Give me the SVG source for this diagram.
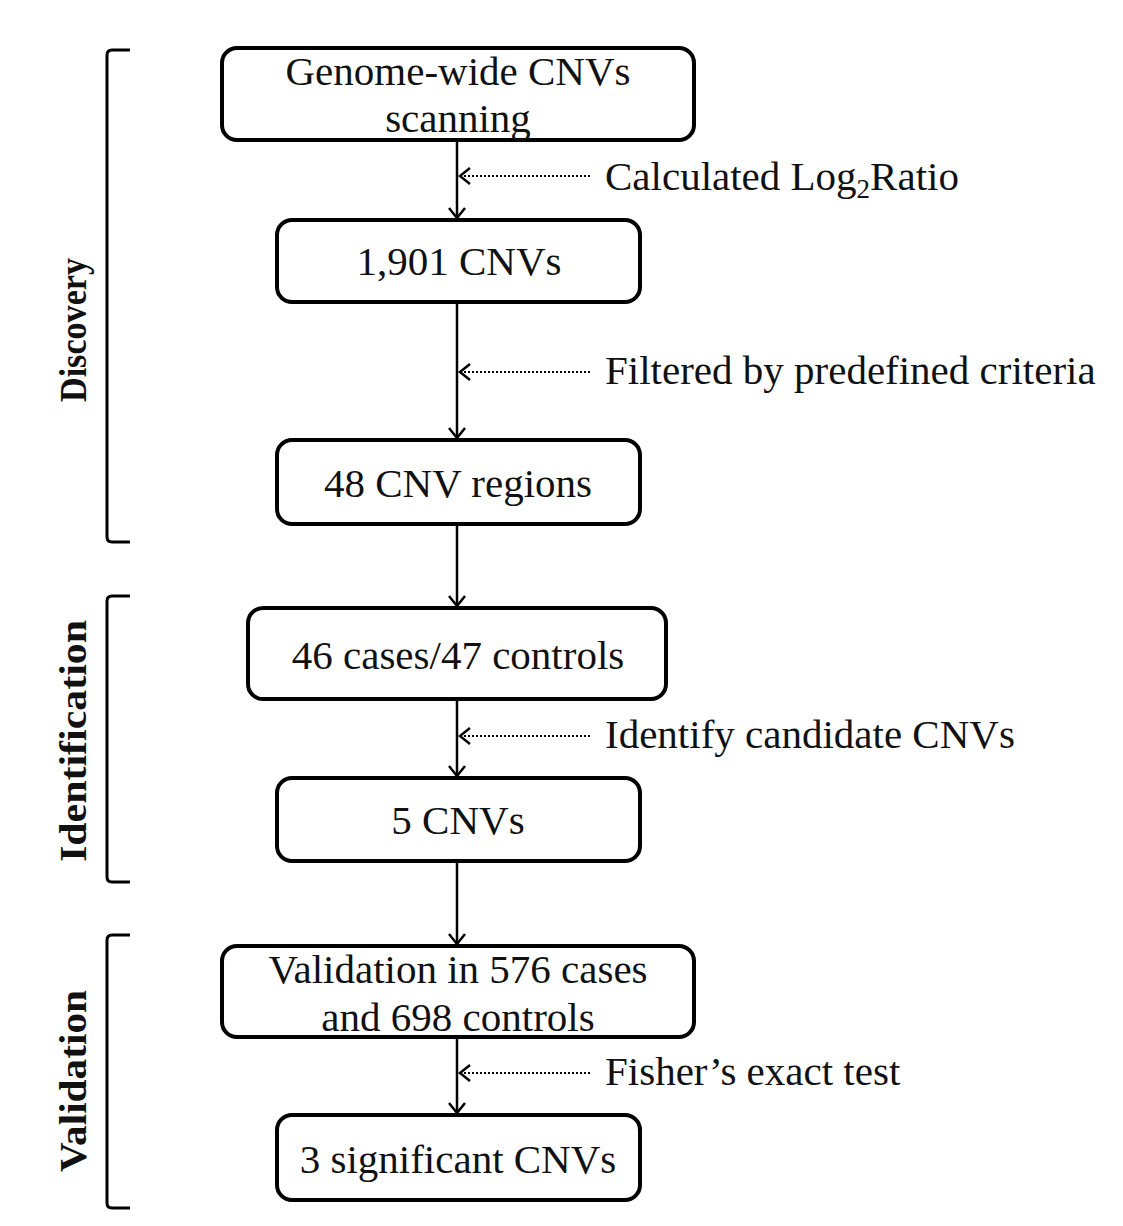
<svg xmlns="http://www.w3.org/2000/svg" width="1123" height="1226" viewBox="0 0 1123 1226">
<style>
.box{fill:#fff;stroke:#000;stroke-width:4}
.t{font-family:"Liberation Serif","Times New Roman",serif;font-size:41px;fill:#111;text-anchor:middle}
.n{font-family:"Liberation Serif","Times New Roman",serif;font-size:41px;fill:#111}
.s{font-family:"Liberation Serif","Times New Roman",serif;font-size:37px;font-weight:bold;fill:#111;text-anchor:middle}
.ln{stroke:#000;stroke-width:2.5;fill:none}
.dot{stroke:#000;stroke-width:2;stroke-dasharray:2 2;fill:none}
.br{stroke:#000;stroke-width:3;fill:none}
</style>
<defs>
<marker id="ah" viewBox="0 0 20 20" refX="18" refY="10" markerWidth="20" markerHeight="20" markerUnits="userSpaceOnUse" orient="auto">
<path d="M8,2 L18,10 L8,18" fill="none" stroke="#000" stroke-width="2.5"/>
</marker>
</defs>
<rect width="1123" height="1226" fill="#fff"/>
<g id="connectors">
<line class="ln" x1="457" y1="140" x2="457" y2="218" marker-end="url(#ah)"/>
<line class="ln" x1="457" y1="302" x2="457" y2="438" marker-end="url(#ah)"/>
<line class="ln" x1="457" y1="524" x2="457" y2="606" marker-end="url(#ah)"/>
<line class="ln" x1="457" y1="699" x2="457" y2="776" marker-end="url(#ah)"/>
<line class="ln" x1="457" y1="861" x2="457" y2="944" marker-end="url(#ah)"/>
<line class="ln" x1="457" y1="1037" x2="457" y2="1113" marker-end="url(#ah)"/>
<line class="dot" x1="590" y1="176" x2="460" y2="176" marker-end="url(#ah)"/>
<line class="dot" x1="590" y1="372" x2="460" y2="372" marker-end="url(#ah)"/>
<line class="dot" x1="590" y1="736" x2="460" y2="736" marker-end="url(#ah)"/>
<line class="dot" x1="590" y1="1073" x2="460" y2="1073" marker-end="url(#ah)"/>
</g>
<g id="n1"><rect class="box" x="222" y="48" width="472" height="92" rx="15"/>
<text class="t" x="458" y="85">Genome-wide CNVs</text><text class="t" x="458" y="132">scanning</text></g>
<g id="n2"><rect class="box" x="277" y="220" width="363" height="82" rx="15"/>
<text class="t" x="459" y="275">1,901 CNVs</text></g>
<g id="n3"><rect class="box" x="277" y="440" width="363" height="84" rx="15"/>
<text class="t" x="458" y="497">48 CNV regions</text></g>
<g id="n4"><rect class="box" x="248" y="608" width="418" height="91" rx="15"/>
<text class="t" x="458" y="669">46 cases/47 controls</text></g>
<g id="n5"><rect class="box" x="277" y="778" width="363" height="83" rx="15"/>
<text class="t" x="458" y="834">5 CNVs</text></g>
<g id="n6"><rect class="box" x="222" y="946" width="472" height="91" rx="15"/>
<text class="t" x="458" y="983">Validation in 576 cases</text><text class="t" x="458" y="1031">and 698 controls</text></g>
<g id="n7"><rect class="box" x="277" y="1115" width="363" height="85" rx="15"/>
<text class="t" x="458" y="1173">3 significant CNVs</text></g>
<g id="labels">
<text class="n" x="605" y="190">Calculated Log<tspan font-size="27" dy="8">2</tspan><tspan dy="-8">Ratio</tspan></text>
<text class="n" x="605" y="384">Filtered by predefined criteria</text>
<text class="n" x="605" y="748">Identify candidate CNVs</text>
<text class="n" x="605" y="1085">Fisher’s exact test</text>
</g>
<g id="phases">
<path class="br" d="M130,50 H112 Q107,50 107,55 V537 Q107,542 112,542 H130"/>
<path class="br" d="M130,596 H112 Q107,596 107,601 V877 Q107,882 112,882 H130"/>
<path class="br" d="M130,935 H112 Q107,935 107,940 V1203 Q107,1208 112,1208 H130"/>
<text class="s" transform="translate(86,330) rotate(-90)" textLength="144" lengthAdjust="spacingAndGlyphs">Discovery</text>
<text class="s" transform="translate(86,741) rotate(-90)" textLength="242" lengthAdjust="spacingAndGlyphs">Identification</text>
<text class="s" transform="translate(86,1081) rotate(-90)" textLength="182" lengthAdjust="spacingAndGlyphs">Validation</text>
</g>
</svg>
